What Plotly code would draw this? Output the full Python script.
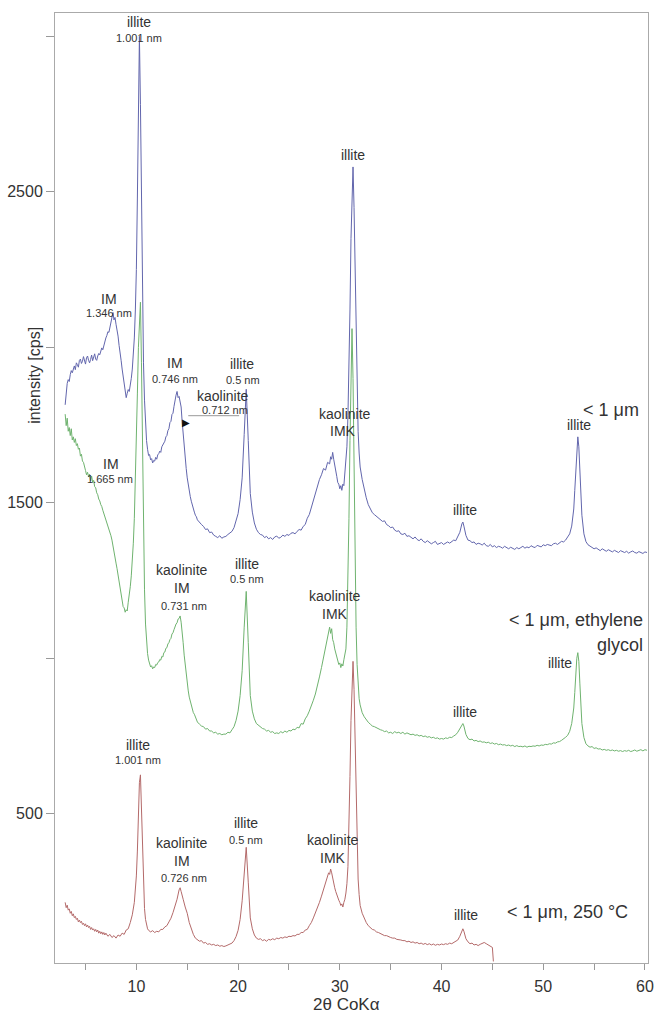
import plotly.graph_objects as go

# ---------------- data ----------------
blue_2theta = [
    3.0, 3.1, 3.2, 3.3, 3.4, 3.5, 3.6, 3.7, 3.8, 3.9, 4.0, 4.1, 4.2, 4.3, 4.4, 4.5, 4.6, 4.7, 4.8, 4.9,
    5.0, 5.1, 5.2, 5.3, 5.4, 5.5, 5.6, 5.7, 5.8, 5.9, 6.0, 6.1, 6.2, 6.3, 6.4, 6.5, 6.6, 6.7, 6.8, 6.9,
    7.0, 7.1, 7.2, 7.3, 7.4, 7.5, 7.6, 7.7, 7.8, 7.9, 8.0, 8.1, 8.2, 8.3, 8.4, 8.5, 8.6, 8.7, 8.8, 8.9,
    9.0, 9.1, 9.2, 9.3, 9.4, 9.5, 9.6, 9.7, 9.8, 9.9, 10.0, 10.1, 10.2, 10.3, 10.4, 10.5, 10.6, 10.7, 10.8, 10.9,
    11.0, 11.1, 11.2, 11.3, 11.4, 11.5, 11.6, 11.7, 11.8, 11.9, 12.0, 12.1, 12.2, 12.3, 12.4, 12.5, 12.6, 12.7, 12.8, 12.9,
    13.0, 13.1, 13.2, 13.3, 13.4, 13.5, 13.6, 13.7, 13.8, 13.9, 14.0, 14.1, 14.2, 14.3, 14.4, 14.5, 14.6, 14.7, 14.8, 14.9,
    15.0, 15.1, 15.2, 15.3, 15.4, 15.5, 15.6, 15.7, 15.8, 15.9, 16.0, 16.2, 16.4, 16.6, 16.8, 17.0, 17.2, 17.4, 17.6, 17.8,
    18.0, 18.2, 18.4, 18.6, 18.8, 19.0, 19.2, 19.4, 19.6, 19.8, 20.0, 20.2, 20.4, 20.6, 20.8, 21.0, 21.1, 21.2, 21.4, 21.6,
    21.8, 22.0, 22.2, 22.4, 22.6, 22.8, 23.0, 23.2, 23.4, 23.6, 23.8, 24.0, 24.2, 24.4, 24.6, 24.8, 25.0, 25.2, 25.4, 25.6,
    25.8, 26.0, 26.2, 26.4, 26.6, 26.8, 27.0, 27.2, 27.4, 27.6, 27.8, 28.0, 28.2, 28.4, 28.6, 28.8, 29.0, 29.1, 29.2, 29.3,
    29.4, 29.5, 29.6, 29.7, 29.8, 29.9, 30.0, 30.1, 30.2, 30.3, 30.4, 30.5, 30.6, 30.7, 30.8, 30.9, 31.0, 31.1, 31.2, 31.3,
    31.4, 31.5, 31.6, 31.7, 31.8, 31.9, 32.0, 32.2, 32.4, 32.6, 32.8, 33.0, 33.2, 33.4, 33.6, 33.8, 34.0, 34.2, 34.4, 34.6,
    34.8, 35.0, 35.2, 35.4, 35.6, 35.8, 36.0, 36.2, 36.4, 36.6, 36.8, 37.0, 37.2, 37.4, 37.6, 37.8, 38.0, 38.2, 38.4, 38.6,
    38.8, 39.0, 39.2, 39.4, 39.6, 39.8, 40.0, 40.2, 40.4, 40.6, 40.8, 41.0, 41.2, 41.4, 41.6, 41.8, 42.0, 42.1, 42.2, 42.4,
    42.6, 42.8, 43.0, 43.2, 43.4, 43.6, 43.8, 44.0, 44.2, 44.4, 44.6, 44.8, 45.0, 45.2, 45.4, 45.6, 45.8, 46.0, 46.2, 46.4,
    46.6, 46.8, 47.0, 47.2, 47.4, 47.6, 47.8, 48.0, 48.2, 48.4, 48.6, 48.8, 49.0, 49.2, 49.4, 49.6, 49.8, 50.0, 50.2, 50.4,
    50.6, 50.8, 51.0, 51.2, 51.4, 51.6, 51.8, 52.0, 52.2, 52.4, 52.6, 52.8, 53.0, 53.1, 53.2, 53.3, 53.4, 53.5, 53.6, 53.7,
    53.8, 54.0, 54.2, 54.4, 54.6, 54.8, 55.0, 55.2, 55.4, 55.6, 55.8, 56.0, 56.2, 56.4, 56.6, 56.8, 57.0, 57.2, 57.4, 57.6,
    57.8, 58.0, 58.2, 58.4, 58.6, 58.8, 59.0, 59.2, 59.4, 59.6, 59.8, 60.0, 60.2,
]
blue_cps = [
    # 3.0 - 6.9
    1815, 1858, 1884, 1896, 1890, 1912, 1925, 1918, 1934, 1940, 1928, 1950, 1944, 1936, 1958, 1962, 1948, 1955, 1970, 1952,
    1946, 1966, 1972, 1958, 1950, 1961, 1975, 1957, 1968, 1979, 1962, 1958, 1972, 1980, 1976, 1990, 1998, 1992, 2008, 2016,
    # 7.0 - 8.9
    2030, 2038, 2050, 2048, 2066, 2078, 2092, 2112, 2088, 2096, 2074, 2058, 2036, 2006, 1988, 1958, 1930, 1905, 1878, 1852,
    # 9.0 - 10.9
    1838, 1852, 1864, 1858, 1874, 1900, 1930, 1970, 2030, 2120, 2250, 2480, 2800, 3000, 2780, 2450, 2150, 1950, 1830, 1750,
    # 11.0 - 14.9
    1700, 1672, 1652, 1655, 1638, 1642, 1628, 1636, 1634, 1646, 1640, 1654, 1658, 1666, 1662, 1680, 1686, 1695, 1698, 1712,
    1716, 1732, 1738, 1758, 1762, 1784, 1788, 1810, 1832, 1846, 1858, 1838, 1842, 1820, 1808, 1762, 1718, 1680, 1645, 1610,
    # 15.0 - 15.9
    1580, 1555, 1535, 1520, 1505, 1490, 1478, 1470, 1460, 1455,
    # 16.0 - 19.8
    1445, 1436, 1430, 1424, 1414, 1416, 1404, 1406, 1396, 1392, 1388, 1394, 1386, 1390, 1392, 1398, 1402, 1408, 1420, 1440,
    # 20.0 - 21.6
    1465, 1510, 1580, 1720, 1865, 1700, 1590, 1530, 1470, 1435,
    # 21.8 - 26.6
    1415, 1404, 1398, 1396, 1388, 1392, 1384, 1388, 1382, 1390, 1393, 1386, 1389, 1396, 1392, 1398, 1395, 1402, 1404, 1400,
    1408, 1414, 1412, 1424, 1430,
    # 26.8 - 28.8
    1450, 1462, 1485, 1505, 1530, 1550, 1575, 1590, 1610, 1605, 1630,
    # 29.0 - 32.0
    1625, 1648, 1640, 1662, 1640, 1625, 1600, 1585, 1565, 1560, 1545, 1555, 1540, 1560, 1555, 1590, 1620, 1680, 1780, 1920,
    2120, 2350, 2500, 2580, 2450, 2250, 2020, 1850, 1730, 1660, 1615,
    # 32.2 - 41.8
    1575, 1542, 1516, 1494, 1482, 1468, 1462, 1456, 1450, 1446, 1440, 1442, 1430, 1426, 1420, 1422, 1412, 1408, 1410, 1400,
    1398, 1402, 1392, 1394, 1388, 1384, 1390, 1382, 1378, 1384, 1376, 1372, 1378, 1374, 1368, 1372, 1376, 1366, 1370, 1372,
    1366, 1370, 1374, 1370, 1376, 1380, 1378, 1390, 1405,
    # 42.0 - 42.4
    1432, 1438, 1425, 1395,
    # 42.6 - 52.2
    1380, 1378, 1372, 1374, 1366, 1370, 1368, 1364, 1370, 1362, 1360, 1366, 1358, 1362, 1356, 1360, 1358, 1354, 1360, 1356,
    1352, 1357, 1354, 1350, 1356, 1352, 1356, 1360, 1354, 1358, 1355, 1362, 1358, 1356, 1363, 1360, 1358, 1365, 1362, 1366,
    1364, 1362, 1368, 1370, 1366, 1372, 1376, 1374, 1380,
    # 52.4 - 54.2
    1390, 1400, 1425, 1480, 1540, 1610, 1680, 1712, 1680, 1600, 1520, 1460, 1400, 1375,
    # 54.4 - 60.2
    1365, 1360, 1356, 1352, 1355, 1350, 1346, 1352, 1348, 1344, 1349, 1346, 1342, 1347, 1344, 1340, 1346, 1343, 1340, 1344,
    1338, 1342, 1345, 1340, 1338, 1343, 1340, 1337, 1342, 1340,
]

green_2theta = [
    3.0, 3.1, 3.2, 3.3, 3.4, 3.5, 3.6, 3.7, 3.8, 3.9, 4.0, 4.1, 4.2, 4.3, 4.4, 4.5, 4.6, 4.7, 4.8, 4.9,
    5.0, 5.1, 5.2, 5.3, 5.4, 5.5, 5.6, 5.7, 5.8, 5.9, 6.0, 6.1, 6.2, 6.3, 6.4, 6.5, 6.6, 6.7, 6.8, 6.9,
    7.0, 7.1, 7.2, 7.3, 7.4, 7.5, 7.6, 7.7, 7.8, 7.9, 8.0, 8.1, 8.2, 8.3, 8.4, 8.5, 8.6, 8.7, 8.8, 8.9,
    9.0, 9.1, 9.2, 9.3, 9.4, 9.5, 9.6, 9.7, 9.8, 9.9, 10.0, 10.1, 10.2, 10.3, 10.4, 10.5, 10.6, 10.7, 10.8, 10.9,
    11.0, 11.1, 11.2, 11.3, 11.4, 11.5, 11.6, 11.7, 11.8, 11.9, 12.0, 12.1, 12.2, 12.3, 12.4, 12.5, 12.6, 12.7, 12.8, 12.9,
    13.0, 13.1, 13.2, 13.3, 13.4, 13.5, 13.6, 13.7, 13.8, 13.9, 14.0, 14.1, 14.2, 14.3, 14.4, 14.5, 14.6, 14.7, 14.8, 14.9,
    15.0, 15.1, 15.2, 15.3, 15.4, 15.5, 15.6, 15.7, 15.8, 15.9, 16.0, 16.2, 16.4, 16.6, 16.8, 17.0, 17.2, 17.4, 17.6, 17.8,
    18.0, 18.2, 18.4, 18.6, 18.8, 19.0, 19.2, 19.4, 19.6, 19.8, 20.0, 20.2, 20.4, 20.6, 20.8, 21.0, 21.1, 21.2, 21.4, 21.6,
    21.8, 22.0, 22.2, 22.4, 22.6, 22.8, 23.0, 23.2, 23.4, 23.6, 23.8, 24.0, 24.2, 24.4, 24.6, 24.8, 25.0, 25.2, 25.4, 25.6,
    25.8, 26.0, 26.2, 26.4, 26.6, 26.8, 27.0, 27.2, 27.4, 27.6, 27.8, 28.0, 28.2, 28.4, 28.6, 28.8, 28.9, 29.0, 29.1, 29.2,
    29.3, 29.4, 29.5, 29.6, 29.7, 29.8, 29.9, 30.0, 30.1, 30.2, 30.3, 30.4, 30.5, 30.6, 30.7, 30.8, 30.9, 31.0, 31.1, 31.2,
    31.3, 31.4, 31.5, 31.6, 31.7, 31.8, 31.9, 32.0, 32.2, 32.4, 32.6, 32.8, 33.0, 33.2, 33.4, 33.6, 33.8, 34.0, 34.2, 34.4,
    34.6, 34.8, 35.0, 35.2, 35.4, 35.6, 35.8, 36.0, 36.2, 36.4, 36.6, 36.8, 37.0, 37.2, 37.4, 37.6, 37.8, 38.0, 38.2, 38.4,
    38.6, 38.8, 39.0, 39.2, 39.4, 39.6, 39.8, 40.0, 40.2, 40.4, 40.6, 40.8, 41.0, 41.2, 41.4, 41.6, 41.8, 42.0, 42.1, 42.2,
    42.4, 42.6, 42.8, 43.0, 43.2, 43.4, 43.6, 43.8, 44.0, 44.2, 44.4, 44.6, 44.8, 45.0, 45.2, 45.4, 45.6, 45.8, 46.0, 46.2,
    46.4, 46.6, 46.8, 47.0, 47.2, 47.4, 47.6, 47.8, 48.0, 48.2, 48.4, 48.6, 48.8, 49.0, 49.2, 49.4, 49.6, 49.8, 50.0, 50.2,
    50.4, 50.6, 50.8, 51.0, 51.2, 51.4, 51.6, 51.8, 52.0, 52.2, 52.4, 52.6, 52.8, 53.0, 53.1, 53.2, 53.3, 53.4, 53.5, 53.6,
    53.7, 53.8, 54.0, 54.2, 54.4, 54.6, 54.8, 55.0, 55.2, 55.4, 55.6, 55.8, 56.0, 56.2, 56.4, 56.6, 56.8, 57.0, 57.2, 57.4,
    57.6, 57.8, 58.0, 58.2, 58.4, 58.6, 58.8, 59.0, 59.2, 59.4, 59.6, 59.8, 60.0, 60.2,
]
green_cps = [
    # 3.0 - 8.9
    1785, 1748, 1772, 1730, 1742, 1716, 1738, 1702, 1712, 1694, 1706, 1684, 1690, 1672, 1676, 1650, 1656, 1634, 1630, 1612,
    1604, 1590, 1598, 1584, 1592, 1570, 1586, 1566, 1572, 1552, 1548, 1532, 1526, 1512, 1506, 1494, 1488, 1476, 1466, 1456,
    1450, 1436, 1428, 1416, 1408, 1394, 1380, 1364, 1346, 1328, 1306, 1288, 1266, 1244, 1220, 1198, 1182, 1166, 1162, 1148,
    # 9.0 - 10.9
    1156, 1152, 1180, 1200, 1230, 1265, 1310, 1370, 1450, 1560, 1700, 1850, 2000, 2100, 2145, 1950, 1650, 1400, 1220, 1110,
    # 11.0 - 14.9
    1050, 1015, 994, 980, 972, 976, 966, 972, 970, 980, 978, 986, 988, 996, 994, 1006, 1004, 1018, 1020, 1032,
    1034, 1046, 1050, 1060, 1064, 1078, 1082, 1092, 1102, 1110, 1114, 1126, 1128, 1136, 1116, 1090, 1050, 1010, 975, 945,
    # 15.0 - 15.9
    920, 895, 875, 860, 848, 838, 825, 820, 810, 805,
    # 16.0 - 19.8
    795, 788, 782, 780, 772, 774, 766, 766, 760, 762, 756, 758, 754, 756, 756, 762, 760, 770, 780, 800,
    # 20.0 - 21.6
    830, 880, 960, 1100, 1215, 1050, 950, 880, 830, 805,
    # 21.8 - 28.8
    790, 784, 778, 774, 772, 766, 768, 762, 764, 758, 760, 758, 764, 760, 766, 762, 768, 766, 772, 770,
    778, 776, 790, 788, 805, 815, 830, 845, 865, 885, 910, 940, 970, 1000, 1030, 1060,
    # 28.9 - 32.0
    1085, 1100, 1080, 1095, 1060, 1050, 1030, 1015, 1000, 990, 980, 985, 970, 982, 975, 995, 1010, 1030, 1100, 1250,
    1450, 1700, 1900, 2060, 1900, 1600, 1300, 1100, 980, 910, 870, 850,
    # 32.2 - 42.0
    825, 812, 802, 794, 788, 782, 780, 776, 772, 770, 768, 764, 766, 760, 762, 758, 764, 760, 762, 758,
    762, 756, 760, 758, 754, 756, 752, 754, 750, 752, 748, 750, 746, 748, 744, 746, 742, 744, 740, 742,
    740, 744, 742, 746, 745, 750, 754, 762, 772, 785,
    # 42.1 - 42.2
    790, 782,
    # 42.4 - 53.0
    755, 742, 738, 740, 734, 736, 732, 734, 730, 731, 728, 730, 726, 728, 724, 726, 722, 724, 721, 722,
    719, 721, 718, 720, 716, 719, 716, 717, 715, 718, 714, 717, 716, 718, 717, 720, 718, 721, 720, 723,
    722, 725, 724, 728, 727, 731, 732, 736, 740, 746, 752, 765, 790, 840,
    # 53.1 - 53.8
    890, 950, 1000, 1018, 990, 920, 850, 790,
    # 54.0 - 60.2
    745, 725, 718, 714, 716, 710, 712, 708, 709, 705, 707, 704, 706, 703, 705, 702, 704, 701, 703, 700,
    703, 701, 704, 700, 702, 705, 701, 703, 706, 702, 706, 704,
]

red_2theta = [
    3.0, 3.1, 3.2, 3.3, 3.4, 3.5, 3.6, 3.7, 3.8, 3.9, 4.0, 4.1, 4.2, 4.3, 4.4, 4.5, 4.6, 4.7, 4.8, 4.9,
    5.0, 5.1, 5.2, 5.3, 5.4, 5.5, 5.6, 5.7, 5.8, 5.9, 6.0, 6.1, 6.2, 6.3, 6.4, 6.5, 6.6, 6.7, 6.8, 6.9,
    7.0, 7.2, 7.4, 7.6, 7.8, 8.0, 8.2, 8.4, 8.6, 8.8, 9.0, 9.2, 9.4, 9.6, 9.8, 10.0, 10.1, 10.2, 10.3, 10.4,
    10.5, 10.6, 10.7, 10.8, 10.9, 11.0, 11.1, 11.2, 11.4, 11.6, 11.8, 12.0, 12.2, 12.4, 12.6, 12.8, 13.0, 13.2, 13.4, 13.6,
    13.8, 14.0, 14.2, 14.3, 14.4, 14.5, 14.6, 14.8, 15.0, 15.2, 15.4, 15.6, 15.8, 16.0, 16.2, 16.4, 16.6, 16.8, 17.0, 17.2,
    17.4, 17.6, 17.8, 18.0, 18.2, 18.4, 18.6, 18.8, 19.0, 19.2, 19.4, 19.6, 19.8, 20.0, 20.2, 20.4, 20.6, 20.8, 21.0, 21.1,
    21.2, 21.4, 21.6, 21.8, 22.0, 22.2, 22.4, 22.6, 22.8, 23.0, 23.2, 23.4, 23.6, 23.8, 24.0, 24.2, 24.4, 24.6, 24.8, 25.0,
    25.2, 25.4, 25.6, 25.8, 26.0, 26.2, 26.4, 26.6, 26.8, 27.0, 27.2, 27.4, 27.6, 27.8, 28.0, 28.2, 28.4, 28.6, 28.8, 28.9,
    29.0, 29.1, 29.2, 29.3, 29.4, 29.5, 29.6, 29.7, 29.8, 29.9, 30.0, 30.1, 30.2, 30.3, 30.4, 30.5, 30.6, 30.7, 30.8, 30.9,
    31.0, 31.1, 31.2, 31.3, 31.4, 31.5, 31.6, 31.7, 31.8, 31.9, 32.0, 32.2, 32.4, 32.6, 32.8, 33.0, 33.2, 33.4, 33.6, 33.8,
    34.0, 34.2, 34.4, 34.6, 34.8, 35.0, 35.2, 35.4, 35.6, 35.8, 36.0, 36.2, 36.4, 36.6, 36.8, 37.0, 37.2, 37.4, 37.6, 37.8,
    38.0, 38.2, 38.4, 38.6, 38.8, 39.0, 39.2, 39.4, 39.6, 39.8, 40.0, 40.2, 40.4, 40.6, 40.8, 41.0, 41.2, 41.4, 41.6, 41.8,
    42.0, 42.1, 42.2, 42.4, 42.6, 42.8, 43.0, 43.2, 43.4, 43.6, 43.8, 44.0, 44.2, 44.4, 44.6, 44.8, 45.0, 45.1,
]
red_cps = [
    # 3.0 - 6.9
    215, 198, 206, 190, 194, 180, 186, 172, 178, 166, 170, 160, 164, 152, 158, 150, 154, 144, 148, 140,
    146, 136, 142, 134, 138, 128, 134, 126, 130, 122, 128, 120, 126, 116, 122, 114, 120, 112, 118, 110,
    # 7.0 - 10.0
    116, 106, 112, 102, 108, 100, 110, 106, 116, 112, 126, 130, 150, 175, 215, 300,
    # 10.1 - 11.2
    380, 500, 600, 625, 520, 380, 260, 195, 160, 140, 130, 125,
    # 11.4 - 14.2
    120, 124, 118, 122, 120, 128, 128, 136, 140, 152, 164, 182, 200, 225, 255,
    # 14.3 - 14.6
    262, 250, 240, 225,
    # 14.8 - 20.8
    200, 180, 150, 128, 112, 100, 95, 90, 92, 84, 86, 80, 82, 78, 80, 76, 78, 74, 76, 73,
    75, 78, 80, 84, 92, 105, 125, 160, 220, 320, 392,
    # 21.0 - 21.1
    280, 210,
    # 21.2 - 28.8
    165, 130, 110, 100, 96, 98, 92, 95, 90, 96, 94, 98, 95, 100, 98, 102, 100, 104, 102, 106,
    105, 108, 107, 112, 112, 118, 118, 126, 128, 140, 150, 165, 180, 198, 215, 235, 255, 275, 295,
    # 28.9 - 32.0
    310, 305, 322, 310, 290, 275, 262, 250, 238, 228, 222, 215, 205, 210, 200, 215, 225, 245, 275, 330,
    450, 620, 800, 930, 990, 900, 720, 520, 380, 290, 240, 205,
    # 32.2 - 42.0
    180, 162, 150, 140, 134, 128, 126, 120, 118, 114, 112, 108, 108, 104, 102, 100, 100, 96, 96, 94,
    92, 92, 88, 90, 86, 88, 84, 86, 82, 84, 80, 83, 79, 82, 78, 81, 77, 80, 78, 81,
    79, 82, 80, 84, 82, 86, 88, 94, 106, 125,
    # 42.1 - 42.2
    130, 122,
    # 42.4 - 45.1
    98, 88, 82, 84, 78, 80, 76, 80, 82, 86, 82, 78, 74, 70, 25,
]

assert len(blue_2theta) == len(blue_cps)
assert len(green_2theta) == len(green_cps)
assert len(red_2theta) == len(red_cps)

x_ticks = [5, 10, 15, 20, 25, 30, 35, 40, 45, 50, 55, 60]
x_tick_text = ["", "10", "", "20", "", "30", "", "40", "", "50", "", "60"]
y_ticks = [500, 1000, 1500, 2000, 2500, 3000]
y_tick_text = ["500", "", "1500", "", "2500", ""]

# peak labels: (2theta, cps, text, size)
blue_labels = [
    (10.3, 3047, "illite", 14), (10.3, 2995, "1.001 nm", 11),
    (7.3, 2156, "IM", 14), (7.3, 2111, "1.346 nm", 11),
    (13.8, 1950, "IM", 14), (13.8, 1899, "0.746 nm", 11),
    (18.5, 1844, "kaolinite", 14), (18.7, 1799, "0.712 nm", 11),
    (20.4, 1947, "illite", 14), (20.5, 1896, "0.5 nm", 11),
    (30.5, 1786, "kaolinite", 14), (30.3, 1731, "IMK", 14),
    (31.3, 2619, "illite", 14),
    (42.3, 1477, "illite", 14),
    (53.5, 1751, "illite", 14),
]
green_labels = [
    (7.5, 1625, "IM", 14), (7.4, 1577, "1.665 nm", 11),
    (14.5, 1285, "kaolinite", 14), (14.5, 1227, "IM", 14), (14.7, 1169, "0.731 nm", 11),
    (20.9, 1304, "illite", 14), (20.9, 1256, "0.5 nm", 11),
    (29.5, 1201, "kaolinite", 14), (29.5, 1143, "IMK", 14),
    (51.6, 986, "illite", 14),
    (42.3, 828, "illite", 14),
]
red_labels = [
    (10.2, 722, "illite", 14), (10.2, 674, "1.001 nm", 11),
    (14.5, 407, "kaolinite", 14), (14.5, 349, "IM", 14), (14.7, 294, "0.726 nm", 11),
    (20.8, 471, "illite", 14), (20.8, 416, "0.5 nm", 11),
    (29.3, 416, "kaolinite", 14), (29.3, 358, "IMK", 14),
    (42.4, 175, "illite", 14),
]
# sample names: (2theta, cps, text, anchor)
sample_labels = [
    (56.7, 1799, "< 1 μm", "center"),
    (60.0, 1124, "< 1 μm, ethylene", "right"),
    (60.0, 1043, "glycol", "right"),
    (52.4, 185, "< 1 μm, 250 °C", "center"),
]

BLUE = "#6266ad"
GREEN = "#6fb36f"
RED = "#b46a6a"
TXT = "#333333"
FONT = "Liberation Sans, Arial, sans-serif"

fig = go.Figure()
for xs, ys, col in [(blue_2theta, blue_cps, BLUE), (green_2theta, green_cps, GREEN), (red_2theta, red_cps, RED)]:
    fig.add_trace(go.Scatter(x=xs, y=ys, mode="lines", line=dict(color=col, width=1),
                             hoverinfo="skip", showlegend=False))

ann = []
for lx, ly, t, s in blue_labels + green_labels + red_labels:
    ann.append(dict(x=lx, y=ly, text=t, showarrow=False, xref="x", yref="y",
                    font=dict(size=s, color=TXT, family=FONT)))
for lx, ly, t, a in sample_labels:
    ann.append(dict(x=lx, y=ly, text=t, showarrow=False, xref="x", yref="y", xanchor=a,
                    font=dict(size=18, color=TXT, family=FONT)))
# arrow marker for the kaolinite shoulder
ann.append(dict(x=14.9, y=1757, text="▶", showarrow=False, xref="x", yref="y",
                font=dict(size=10, color="#111111", family="DejaVu Sans")))
# axis titles
ann.append(dict(x=-0.034, y=0.619, xref="paper", yref="paper", text="intensity [cps]", textangle=-90,
                xanchor="center", yanchor="middle",
                showarrow=False, font=dict(size=16, color=TXT, family=FONT)))
ann.append(dict(x=0.4924, y=-0.0435, xref="paper", yref="paper", text="2θ CoKα",
                xanchor="center", yanchor="middle",
                showarrow=False, font=dict(size=17, color=TXT, family=FONT)))

fig.update_layout(
    width=655, height=1014,
    margin=dict(l=55, r=7, t=13, b=51, autoexpand=False),
    paper_bgcolor="white", plot_bgcolor="white",
    annotations=ann,
    shapes=[dict(type="line", xref="x", yref="y", x0=15.1, x1=20.1, y0=1780, y1=1780,
                 line=dict(color="#999999", width=1))],
    showlegend=False,
    hovermode=False,
)
fig.update_xaxes(range=[2.0, 60.3], tickvals=x_ticks, ticktext=x_tick_text, ticks="outside", ticklen=6,
                 tickcolor="#999999", showline=True, linecolor="#aaaaaa", linewidth=1, mirror=True,
                 showgrid=False, zeroline=False, automargin=False, ticklabelstandoff=3,
                 ticklabeloverflow="allow",
                 tickfont=dict(size=16, color=TXT, family=FONT))
fig.update_yaxes(range=[20, 3075], tickvals=y_ticks, ticktext=y_tick_text, ticks="outside", ticklen=8,
                 tickcolor="#999999", showline=True, linecolor="#aaaaaa", linewidth=1, mirror=True,
                 showgrid=False, zeroline=False, automargin=False,
                 tickfont=dict(size=16, color=TXT, family=FONT))

# remove the default page margin so the 655x1014 figure fills the window exactly
fig.write_html("out.html", config={"displayModeBar": False},
               post_script="document.body.style.margin='0';document.body.style.overflow='hidden';")
